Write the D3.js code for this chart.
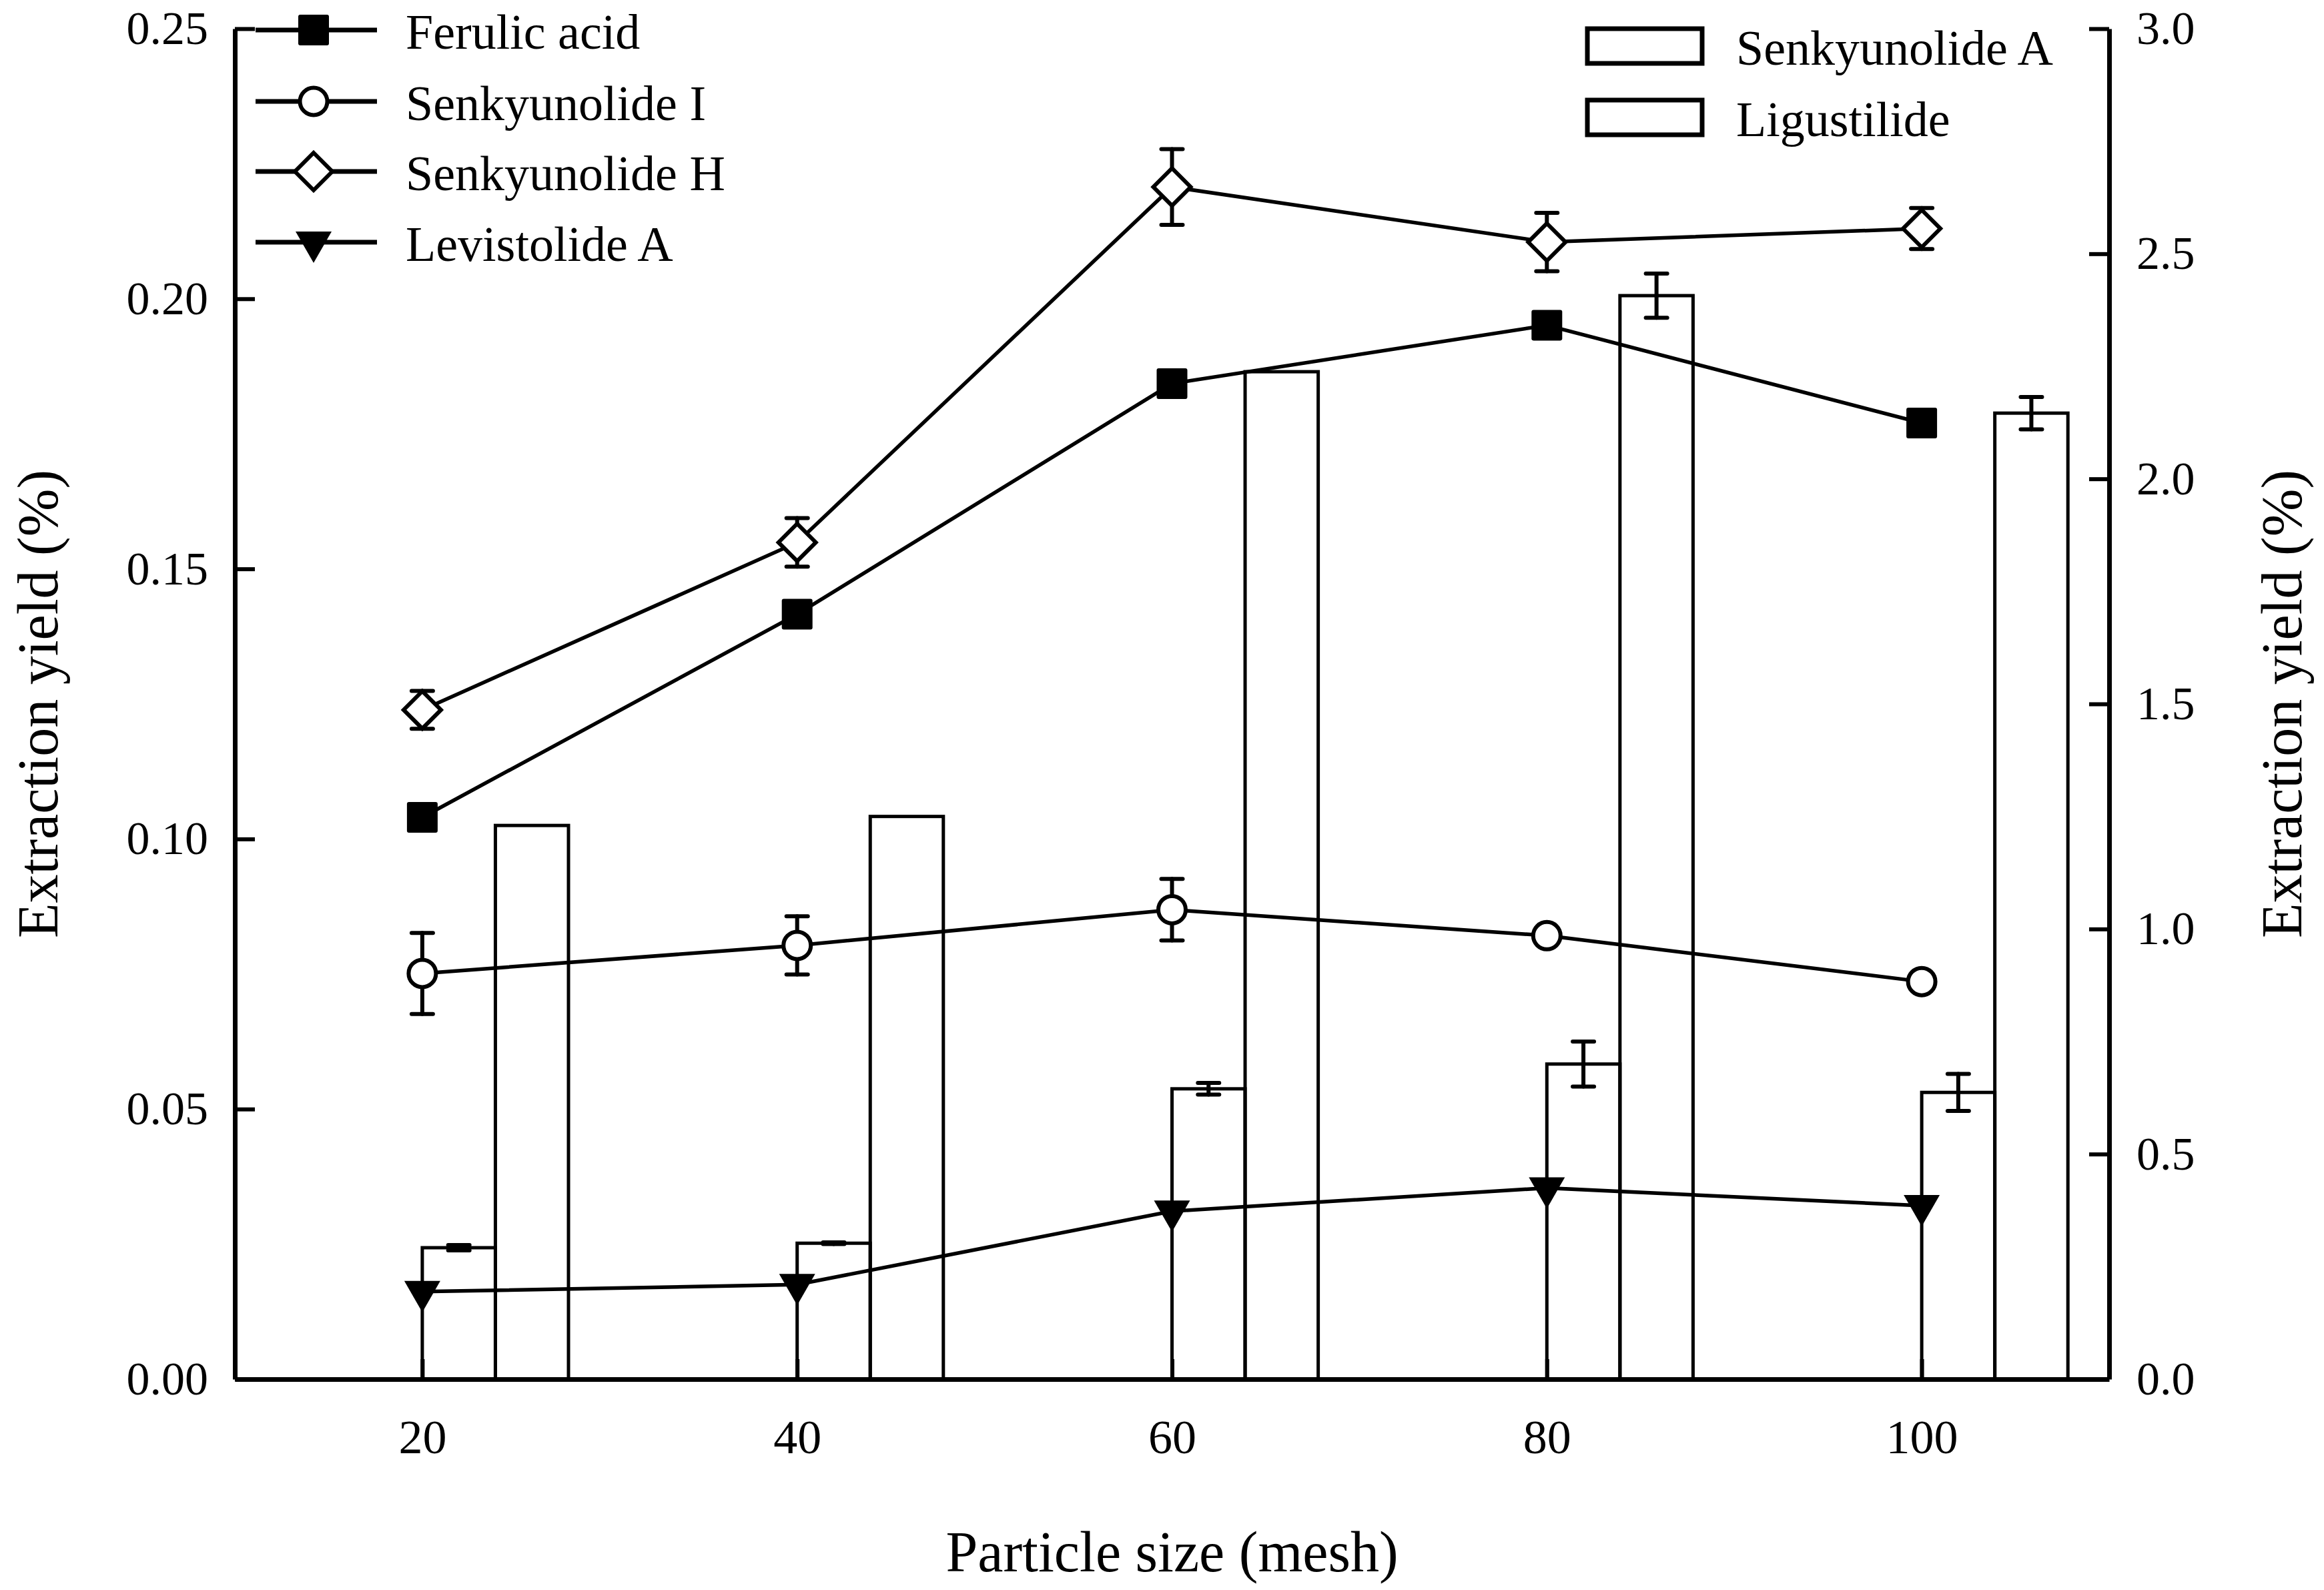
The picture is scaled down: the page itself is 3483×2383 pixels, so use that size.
<!DOCTYPE html>
<html>
<head>
<meta charset="utf-8">
<script src="https://cdn.jsdelivr.net/npm/d3@7"></script>
<style>
  body { margin: 0; background: #fff; }
  text { font-family: "Liberation Serif", "Times New Roman", serif; fill: #000; }
</style>
</head>
<body>
<div id="vis"></div>
<script>
// data
const meshSizes = [20, 40, 60, 80, 100];

// left axis series (%)
const ferulicAcid = [0.1040, 0.1416, 0.1843, 0.1951, 0.1770];
const ferulicAcidErr = [0, 0, 0, 0, 0];
const senkyunolideI = [0.0751, 0.0803, 0.0869, 0.0821, 0.0736];
const senkyunolideIErr = [0.0075, 0.0054, 0.0057, 0, 0];
const senkyunolideH = [0.1239, 0.1549, 0.2207, 0.2105, 0.2130];
const senkyunolideHErr = [0.0035, 0.0045, 0.0070, 0.0054, 0.0038];
const levistolideA = [0.0162, 0.0175, 0.0311, 0.0354, 0.0321];
const levistolideAErr = [0, 0, 0, 0, 0];

// right axis bars (%)
const senkyunolideA = [0.292, 0.302, 0.645, 0.700, 0.637];
const senkyunolideAErr = [0.006, 0.002, 0.013, 0.050, 0.041];
const ligustilide = [1.230, 1.250, 2.238, 2.407, 2.146];
const ligustilideErr = [0, 0, 0, 0.049, 0.036];

const leftTicks = [0, 0.05, 0.10, 0.15, 0.20, 0.25];
const rightTicks = [0, 0.5, 1.0, 1.5, 2.0, 2.5, 3.0];
const xTicks = [20, 40, 60, 80, 100];

// frame
const FRAME_WIDTH = 3483;
const FRAME_HEIGHT = 2383;
const MARGINS = {left: 352, right: 322, top: 43, bottom: 316};
const VIS_WIDTH = FRAME_WIDTH - MARGINS.left - MARGINS.right;
const VIS_HEIGHT = FRAME_HEIGHT - MARGINS.top - MARGINS.bottom;
const BAR_W = 3.9; // bar width in x units

const svg = d3.select("#vis").append("svg")
  .attr("width", FRAME_WIDTH)
  .attr("height", FRAME_HEIGHT);

svg.append("rect").attr("width", FRAME_WIDTH).attr("height", FRAME_HEIGHT).attr("fill", "#fff");

const x = d3.scaleLinear().domain([10, 110]).range([MARGINS.left, MARGINS.left + VIS_WIDTH]);
const yL = d3.scaleLinear().domain([0, 0.25]).range([MARGINS.top + VIS_HEIGHT, MARGINS.top]);
const yR = d3.scaleLinear().domain([0, 3.0]).range([MARGINS.top + VIS_HEIGHT, MARGINS.top]);

// bars
const barData = [
  {vals: senkyunolideA, errs: senkyunolideAErr, off: 0},
  {vals: ligustilide, errs: ligustilideErr, off: BAR_W}
];
const gBars = svg.append("g");
barData.forEach((s) => {
  gBars.selectAll(null)
    .data(meshSizes)
    .join("rect")
      .attr("x", (d) => x(d + s.off))
      .attr("y", (d, i) => yR(s.vals[i]))
      .attr("width", x(BAR_W) - x(0))
      .attr("height", (d, i) => yR(0) - yR(s.vals[i]))
      .attr("fill", "none")
      .attr("stroke", "#000")
      .attr("stroke-width", 5);
});

function errorBars(g, xs, vals, errs, yScale) {
  xs.forEach((xv, i) => {
    const e = errs[i];
    if (!e) return;
    const cx = x(xv), y1 = yScale(vals[i] - e), y2 = yScale(vals[i] + e);
    g.append("line").attr("x1", cx).attr("x2", cx).attr("y1", y1).attr("y2", y2);
    g.append("line").attr("x1", cx - 16).attr("x2", cx + 16).attr("y1", y1).attr("y2", y1);
    g.append("line").attr("x1", cx - 16).attr("x2", cx + 16).attr("y1", y2).attr("y2", y2);
  });
}

// markers
const markers = {
  square: (g) => g.append("rect").attr("x", -23).attr("y", -23).attr("width", 46).attr("height", 46)
                  .attr("rx", 3).attr("fill", "#000"),
  circle: (g) => g.append("circle").attr("r", 20.5).attr("fill", "#fff")
                  .attr("stroke", "#000").attr("stroke-width", 6),
  diamond: (g) => g.append("path").attr("d", "M0,-28L28,0L0,28L-28,0Z").attr("fill", "#fff")
                  .attr("stroke", "#000").attr("stroke-width", 6),
  triangle: (g) => g.append("path").attr("d", "M-27,-16L27,-16L0,31Z").attr("fill", "#000")
};

const lineSeries = [
  {name: "Ferulic acid", vals: ferulicAcid, errs: ferulicAcidErr, marker: "square"},
  {name: "Senkyunolide I", vals: senkyunolideI, errs: senkyunolideIErr, marker: "circle"},
  {name: "Senkyunolide H", vals: senkyunolideH, errs: senkyunolideHErr, marker: "diamond"},
  {name: "Levistolide A", vals: levistolideA, errs: levistolideAErr, marker: "triangle"}
];

const line = d3.line().x((d) => x(d[0])).y((d) => yL(d[1]));
const gLines = svg.append("g");
lineSeries.forEach((s) => {
  gLines.append("path")
    .datum(meshSizes.map((m, i) => [m, s.vals[i]]))
    .attr("d", line)
    .attr("fill", "none")
    .attr("stroke", "#000")
    .attr("stroke-width", 5.5);
});

// error bars on top of lines and bars
const gErr = svg.append("g").attr("stroke", "#000").attr("stroke-width", 6).attr("stroke-linecap", "round");
lineSeries.forEach((s) => errorBars(gErr, meshSizes, s.vals, s.errs, yL));
barData.forEach((s) => errorBars(gErr, meshSizes.map((m) => m + s.off + BAR_W / 2), s.vals, s.errs, yR));

// markers on top
lineSeries.forEach((s) => {
  meshSizes.forEach((m, i) => {
    const g = svg.append("g").attr("transform", "translate(" + x(m) + "," + yL(s.vals[i]) + ")");
    markers[s.marker](g);
  });
});

// axes
function styleAxis(g, size) {
  g.select(".domain").attr("stroke-width", 7);
  g.selectAll(".tick line").attr("stroke-width", 6);
  g.selectAll("text").attr("font-size", size + "px")
    .attr("font-family", "Liberation Serif, Times New Roman, serif");
}

svg.append("g")
  .attr("transform", "translate(" + MARGINS.left + ",0)")
  .call(d3.axisLeft(yL).tickValues(leftTicks).tickFormat(d3.format(".2f"))
          .tickSizeInner(-30).tickSizeOuter(0).tickPadding(40))
  .call((g) => styleAxis(g, 70));

svg.append("g")
  .attr("transform", "translate(" + (MARGINS.left + VIS_WIDTH) + ",0)")
  .call(d3.axisRight(yR).tickValues(rightTicks).tickFormat(d3.format(".1f"))
          .tickSizeInner(-30).tickSizeOuter(0).tickPadding(41))
  .call((g) => styleAxis(g, 70));

svg.append("g")
  .attr("transform", "translate(0," + (MARGINS.top + VIS_HEIGHT) + ")")
  .call(d3.axisBottom(x).tickValues(xTicks).tickFormat(d3.format("d"))
          .tickSizeInner(-30).tickSizeOuter(0).tickPadding(60))
  .call((g) => styleAxis(g, 72));

// axis titles
svg.append("text")
  .attr("x", MARGINS.left + VIS_WIDTH / 2)
  .attr("y", 2355)
  .attr("text-anchor", "middle")
  .attr("font-size", "86px")
  .text("Particle size (mesh)");

svg.append("text")
  .attr("transform", "translate(86," + (MARGINS.top + VIS_HEIGHT / 2) + ") rotate(-90)")
  .attr("text-anchor", "middle")
  .attr("font-size", "86px")
  .text("Extraction yield (%)");

svg.append("text")
  .attr("transform", "translate(3449," + (MARGINS.top + VIS_HEIGHT / 2) + ") rotate(-90)")
  .attr("text-anchor", "middle")
  .attr("font-size", "86px")
  .text("Extraction yield (%)");

// legend - lines
const legendRows = [45, 152, 257, 363];
lineSeries.forEach((s, i) => {
  const yy = legendRows[i];
  svg.append("line").attr("x1", 383).attr("x2", 565).attr("y1", yy).attr("y2", yy)
    .attr("stroke", "#000").attr("stroke-width", 7);
  const g = svg.append("g").attr("transform", "translate(470," + yy + ")");
  markers[s.marker](g);
  svg.append("text").attr("x", 608).attr("y", yy + 28).attr("font-size", "74px").text(s.name);
});

// legend - bars
const barNames = ["Senkyunolide A", "Ligustilide"];
[69, 176].forEach((yy, i) => {
  svg.append("rect").attr("x", 2379).attr("y", yy - 26).attr("width", 172).attr("height", 52)
    .attr("fill", "none").attr("stroke", "#000").attr("stroke-width", 7);
  svg.append("text").attr("x", 2602).attr("y", yy + 28).attr("font-size", "74px").text(barNames[i]);
});
</script>
</body>
</html>
